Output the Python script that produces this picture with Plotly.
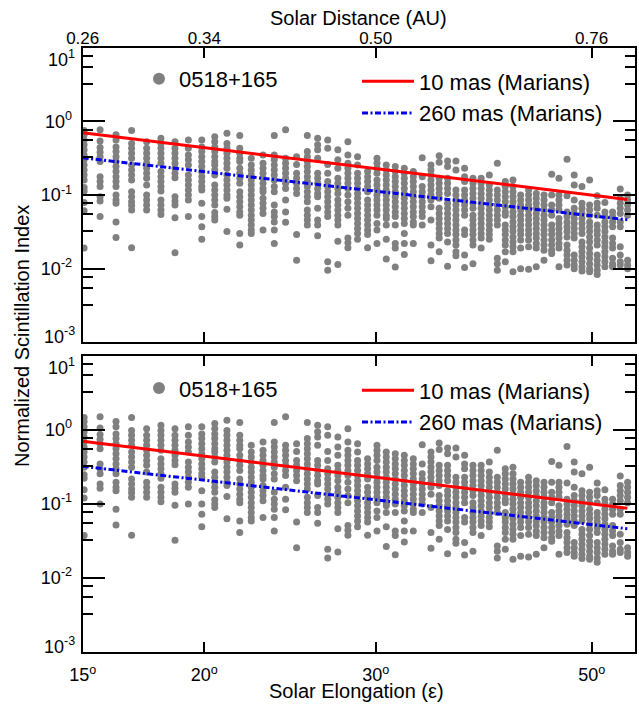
import numpy as np
import plotly.graph_objects as go

# ---------------- data ----------------
# Solar elongation (deg) of each observation column
elongation = [15.05, 15.63, 16.23, 16.84, 17.45, 18.05, 18.66, 19.26, 19.88, 20.50,
              21.10, 21.75, 22.35, 22.98, 23.60, 24.24, 24.88, 25.52, 26.15, 26.78,
              27.43, 28.09, 28.74, 29.43, 30.09, 30.76, 31.42, 32.10, 32.79, 33.49,
              34.19, 34.86, 35.56, 36.27, 37.02, 37.76, 38.50, 39.25, 40.00, 40.76,
              41.51, 42.27, 43.07, 43.86, 44.67, 45.49, 46.28, 47.17, 47.98, 48.87,
              49.76, 50.66, 51.59, 52.54, 53.50, 54.44]

# Normalized scintillation index values in each column (upper panel)
scint_index = [
    [0.75, 0.66, 0.56, 0.48, 0.41, 0.35, 0.30, 0.256, 0.219, 0.187, 0.160, 0.126, 0.113, 0.079, 0.061, 0.019],
    [0.77, 0.54, 0.44, 0.38, 0.33, 0.284, 0.177, 0.152, 0.130, 0.095, 0.083, 0.051],
    [0.66, 0.56, 0.45, 0.39, 0.33, 0.284, 0.243, 0.208, 0.177, 0.152, 0.130, 0.100, 0.0855, 0.077, 0.043, 0.0265],
    [0.75, 0.50, 0.43, 0.37, 0.315, 0.256, 0.219, 0.187, 0.160, 0.111, 0.095, 0.081, 0.072, 0.0625, 0.0192],
    [0.53, 0.43, 0.37, 0.315, 0.27, 0.231, 0.197, 0.169, 0.137, 0.100, 0.0855, 0.073, 0.0625],
    [0.59, 0.50, 0.43, 0.37, 0.315, 0.27, 0.208, 0.177, 0.152, 0.130, 0.113, 0.0855, 0.073, 0.0625, 0.0545],
    [0.53, 0.43, 0.37, 0.315, 0.27, 0.231, 0.197, 0.172, 0.095, 0.083, 0.073, 0.049, 0.0164],
    [0.56, 0.43, 0.35, 0.30, 0.256, 0.187, 0.160, 0.137, 0.117, 0.100, 0.0855, 0.051],
    [0.56, 0.45, 0.39, 0.33, 0.284, 0.243, 0.208, 0.177, 0.152, 0.130, 0.117, 0.077, 0.051, 0.037, 0.025],
    [0.62, 0.53, 0.45, 0.39, 0.33, 0.284, 0.256, 0.219, 0.187, 0.137, 0.117, 0.100, 0.0855, 0.073, 0.058, 0.051, 0.0457],
    [0.69, 0.50, 0.43, 0.37, 0.315, 0.27, 0.231, 0.187, 0.160, 0.137, 0.117, 0.100, 0.090, 0.064, 0.032],
    [0.64, 0.43, 0.37, 0.315, 0.284, 0.231, 0.197, 0.169, 0.144, 0.111, 0.095, 0.081, 0.069, 0.059, 0.053, 0.030, 0.021],
    [0.315, 0.256, 0.219, 0.187, 0.160, 0.137, 0.117, 0.100, 0.0855, 0.073, 0.0625, 0.053, 0.0457, 0.039, 0.0334, 0.030],
    [0.35, 0.27, 0.231, 0.197, 0.169, 0.144, 0.123, 0.111, 0.090, 0.077, 0.066, 0.056, 0.0334],
    [0.64, 0.35, 0.30, 0.256, 0.219, 0.187, 0.160, 0.130, 0.111, 0.073, 0.059, 0.051, 0.043, 0.0334, 0.022],
    [0.77, 0.315, 0.27, 0.231, 0.197, 0.169, 0.144, 0.123, 0.0855, 0.059, 0.0425],
    [0.33, 0.26, 0.197, 0.169, 0.144, 0.123, 0.105, 0.029, 0.013],
    [0.64, 0.39, 0.33, 0.284, 0.243, 0.208, 0.177, 0.152, 0.130, 0.111, 0.095, 0.081, 0.0625, 0.053, 0.0457, 0.039],
    [0.59, 0.48, 0.41, 0.315, 0.197, 0.169, 0.144, 0.123, 0.105, 0.095, 0.066, 0.0457, 0.039, 0.028],
    [0.56, 0.43, 0.26, 0.197, 0.152, 0.130, 0.111, 0.095, 0.081, 0.069, 0.059, 0.051, 0.0124, 0.0095],
    [0.41, 0.30, 0.231, 0.169, 0.144, 0.123, 0.105, 0.0855, 0.073, 0.0625, 0.053, 0.0457, 0.039, 0.0236, 0.0114],
    [0.53, 0.35, 0.27, 0.231, 0.197, 0.169, 0.144, 0.123, 0.100, 0.081, 0.066, 0.053, 0.026, 0.0224, 0.0192],
    [0.33, 0.256, 0.197, 0.169, 0.144, 0.123, 0.105, 0.090, 0.077, 0.066, 0.056, 0.048, 0.041, 0.035, 0.030, 0.025],
    [0.208, 0.177, 0.152, 0.130, 0.111, 0.0855, 0.073, 0.0625, 0.053, 0.0457, 0.039, 0.0334, 0.029, 0.0192],
    [0.315, 0.27, 0.231, 0.197, 0.160, 0.137, 0.117, 0.100, 0.0855, 0.073, 0.0625, 0.053, 0.041, 0.0334, 0.022],
    [0.256, 0.219, 0.187, 0.160, 0.137, 0.117, 0.100, 0.0855, 0.073, 0.0625, 0.053, 0.048, 0.039, 0.025, 0.0135],
    [0.243, 0.208, 0.177, 0.152, 0.130, 0.111, 0.095, 0.081, 0.069, 0.059, 0.051, 0.039, 0.022, 0.019, 0.0105],
    [0.231, 0.197, 0.169, 0.144, 0.123, 0.105, 0.090, 0.077, 0.066, 0.056, 0.048, 0.041, 0.030, 0.022, 0.0156],
    [0.208, 0.177, 0.152, 0.130, 0.111, 0.095, 0.081, 0.069, 0.059, 0.051, 0.043, 0.039, 0.022],
    [0.32, 0.177, 0.130, 0.111, 0.095, 0.081, 0.069, 0.059, 0.051, 0.039],
    [0.256, 0.219, 0.187, 0.160, 0.137, 0.117, 0.100, 0.0855, 0.069, 0.0457, 0.021, 0.0128],
    [0.34, 0.278, 0.169, 0.144, 0.123, 0.105, 0.090, 0.066, 0.056, 0.048, 0.041, 0.035, 0.030, 0.026, 0.017],
    [0.29, 0.243, 0.169, 0.144, 0.123, 0.105, 0.077, 0.066, 0.056, 0.048, 0.041, 0.035, 0.030, 0.023, 0.0108],
    [0.29, 0.219, 0.117, 0.100, 0.0855, 0.073, 0.0625, 0.053, 0.0457, 0.039, 0.0334, 0.029, 0.0244, 0.021, 0.017, 0.015],
    [0.231, 0.177, 0.152, 0.117, 0.100, 0.0855, 0.073, 0.0625, 0.053, 0.0334, 0.029, 0.0153, 0.0104],
    [0.169, 0.144, 0.123, 0.105, 0.090, 0.077, 0.066, 0.053, 0.0457, 0.039, 0.0334, 0.029, 0.0244, 0.021, 0.0117],
    [0.169, 0.144, 0.123, 0.105, 0.090, 0.077, 0.066, 0.056, 0.048, 0.041, 0.035, 0.030, 0.026, 0.019],
    [0.187, 0.137, 0.117, 0.100, 0.0855, 0.073, 0.0625, 0.053, 0.0457, 0.039, 0.0334, 0.029, 0.025],
    [0.27, 0.117, 0.100, 0.0855, 0.073, 0.0625, 0.053, 0.0457, 0.039, 0.0138, 0.0117, 0.0095],
    [0.152, 0.130, 0.111, 0.095, 0.081, 0.069, 0.059, 0.053, 0.039, 0.0334, 0.029, 0.0244, 0.021, 0.017, 0.0124],
    [0.160, 0.130, 0.111, 0.095, 0.081, 0.069, 0.059, 0.051, 0.043, 0.037, 0.032, 0.027, 0.023, 0.0198, 0.017, 0.0091],
    [0.100, 0.0855, 0.073, 0.0625, 0.053, 0.0457, 0.039, 0.0334, 0.029, 0.0244, 0.019, 0.0100],
    [0.117, 0.100, 0.0855, 0.073, 0.0625, 0.053, 0.0457, 0.039, 0.0334, 0.029, 0.0244, 0.0198, 0.0098],
    [0.105, 0.090, 0.077, 0.066, 0.056, 0.048, 0.041, 0.035, 0.030, 0.026, 0.022, 0.019, 0.0106],
    [0.100, 0.0855, 0.073, 0.0625, 0.053, 0.0457, 0.039, 0.0334, 0.029, 0.0244, 0.021, 0.0178, 0.013],
    [0.191, 0.100, 0.073, 0.0625, 0.053, 0.039, 0.0334, 0.029, 0.0244, 0.021, 0.0178, 0.016],
    [0.169, 0.100, 0.0855, 0.073, 0.0625, 0.048, 0.041, 0.035, 0.030, 0.026, 0.022, 0.019, 0.0106],
    [0.305, 0.098, 0.059, 0.051, 0.043, 0.037, 0.032, 0.027, 0.021, 0.0178, 0.0153, 0.013, 0.0112],
    [0.187, 0.137, 0.0855, 0.066, 0.056, 0.048, 0.041, 0.035, 0.030, 0.026, 0.0153, 0.013, 0.0112, 0.0100],
    [0.130, 0.077, 0.066, 0.056, 0.048, 0.041, 0.035, 0.030, 0.023, 0.0198, 0.017, 0.0145, 0.0124, 0.0106, 0.0093],
    [0.160, 0.073, 0.0625, 0.053, 0.043, 0.037, 0.032, 0.027, 0.023, 0.019, 0.016, 0.0138, 0.0117, 0.0100, 0.0091],
    [0.098, 0.077, 0.066, 0.053, 0.039, 0.0334, 0.029, 0.0244, 0.021, 0.0153, 0.013, 0.0112, 0.0095, 0.0083],
    [0.079, 0.059, 0.051, 0.043, 0.037, 0.032, 0.027, 0.023, 0.0198, 0.017, 0.0145, 0.0124, 0.0106],
    [0.059, 0.051, 0.043, 0.037, 0.026, 0.022, 0.019, 0.0138, 0.0117, 0.0106],
    [0.121, 0.090, 0.077, 0.066, 0.056, 0.043, 0.037, 0.0198, 0.0153, 0.0124, 0.0112],
    [0.100, 0.0855, 0.073, 0.0625, 0.053, 0.013, 0.0112, 0.0100],
]

# lower panel: same observations with a different normalization factor
lower_panel_factor = 1.95

# Marians model curves (straight lines in log-log), end points
model_elong = [15.0, 54.4]
model_10mas = [0.70, 0.087]
model_260mas = [0.32, 0.046]

source_name = "0518+165"
name_10 = "10 mas (Marians)"
name_260 = "260 mas (Marians)"

x_tickvals = [15, 20, 30, 50]
x_ticktext = ["15<sup>o</sup>", "20<sup>o</sup>", "30<sup>o</sup>", "50<sup>o</sup>"]
au_ticktext = ["0.26", "0.34", "0.50", "0.76"]
y_tickvals = [1e-2, 1e-1, 1e0]
y_ticktext = ["10<sup>-2</sup>", "10<sup>-1</sup>", "10<sup>0</sup>"]
y_edge_text_top = "10<sup>1</sup>"
y_edge_text_bottom = "10<sup>-3</sup>"
y_minor_mult = [3.25, 5.5, 7.75]
y_minor_decades = [1e-3, 1e-2, 1e-1, 1e0]

# ---------------- build ----------------
xs, ys = [], []
for e, col in zip(elongation, scint_index):
    for v in col:
        xs.append(e)
        ys.append(v)
ys_low = [v * lower_panel_factor for v in ys]

W, H = 639, 704
FONT = "Liberation Sans, Arial, Helvetica, sans-serif"
GRAY = "#808080"
RED = "#ff0000"
BLUE = "#0000ee"
DASHDOT = "6px,2.5px,2px,2.5px"

def px_x(p):
    return p / W

def px_y(p):
    return 1 - p / H

xdom = [px_x(82.7), px_x(635.0)]
top_dom = [px_y(342.3), px_y(47.7)]
bot_dom = [px_y(651.7), px_y(355.7)]
xr = [np.log10(15.0), np.log10(55.4)]

fig = go.Figure()

# upper panel
fig.add_trace(go.Scatter(x=xs, y=ys, mode="markers", name=source_name,
                         marker=dict(color=GRAY, size=7, line=dict(width=0)),
                         xaxis="x", yaxis="y", legend="legend"))
fig.add_trace(go.Scatter(x=model_elong, y=model_10mas, mode="lines", name=name_10,
                         line=dict(color=RED, width=3), xaxis="x", yaxis="y",
                         legend="legend2", legendgroup="a"))
fig.add_trace(go.Scatter(x=model_elong, y=model_260mas, mode="lines", name=name_260,
                         line=dict(color=BLUE, width=3, dash=DASHDOT),
                         xaxis="x", yaxis="y", legend="legend2", legendgroup="b"))
# lower panel
fig.add_trace(go.Scatter(x=xs, y=ys_low, mode="markers", name=source_name,
                         marker=dict(color=GRAY, size=7, line=dict(width=0)),
                         xaxis="x3", yaxis="y2", legend="legend3"))
fig.add_trace(go.Scatter(x=model_elong, y=model_10mas, mode="lines", name=name_10,
                         line=dict(color=RED, width=3), xaxis="x3", yaxis="y2",
                         legend="legend4", legendgroup="c"))
fig.add_trace(go.Scatter(x=model_elong, y=model_260mas, mode="lines", name=name_260,
                         line=dict(color=BLUE, width=3, dash=DASHDOT),
                         xaxis="x3", yaxis="y2", legend="legend4", legendgroup="d"))

minor_vals = [m * d for d in y_minor_decades for m in y_minor_mult]

common_x = dict(type="log", range=xr, domain=xdom, showgrid=False, zeroline=False,
                showline=True, linewidth=2, linecolor="black", mirror="ticks",
                ticks="inside", ticklen=10, tickwidth=2, tickcolor="black",
                tickmode="array", tickvals=x_tickvals, automargin=False)
common_y = dict(type="log", range=[-3, 1], showgrid=False, zeroline=False,
                showline=True, linewidth=2, linecolor="black", mirror="ticks",
                ticks="inside", ticklen=22, tickwidth=2, tickcolor="black",
                tickmode="array", tickvals=y_tickvals, ticktext=y_ticktext,
                ticklabelstandoff=5, automargin=False,
                tickfont=dict(family=FONT, size=18, color="black"),
                minor=dict(tickmode="array", tickvals=minor_vals, ticks="inside",
                           ticklen=10, tickwidth=2, tickcolor="black", showgrid=False))

fig.update_layout(
    width=W, height=H, autosize=False,
    margin=dict(l=0, r=0, t=0, b=0, pad=0, autoexpand=False),
    paper_bgcolor="white", plot_bgcolor="white",
    font=dict(family=FONT, size=18, color="black"),
    xaxis=dict(**common_x, anchor="y", side="top", showticklabels=True,
               ticktext=au_ticktext, ticklabelstandoff=-5,
               tickfont=dict(family=FONT, size=17, color="black")),
    xaxis3=dict(**common_x, anchor="y2", showticklabels=True, ticktext=x_ticktext,
                ticklabelstandoff=6,
                tickfont=dict(family=FONT, size=18, color="black")),
    yaxis=dict(**common_y, domain=top_dom, anchor="x"),
    yaxis2=dict(**common_y, domain=bot_dom, anchor="x3"),
    showlegend=True,
)

leg_common = dict(bgcolor="rgba(0,0,0,0)", borderwidth=0,
                  font=dict(family=FONT, size=22, color="black"),
                  xanchor="left", yanchor="middle")
fig.update_layout(
    legend=dict(**leg_common, x=px_x(159 - 20), y=px_y(79), itemsizing="constant"),
    legend2=dict(**leg_common, x=px_x(362 - 5), y=px_y(97.5), tracegroupgap=0,
                 itemwidth=52),
    legend3=dict(**leg_common, x=px_x(159 - 20), y=px_y(388.3), itemsizing="constant"),
    legend4=dict(**leg_common, x=px_x(362 - 5), y=px_y(406.5), tracegroupgap=0,
                 itemwidth=52),
)

# y labels at the panel edges (drawn inward, as in the original)
for txt, ypix in [(y_edge_text_top, 58), (y_edge_text_bottom, 335),
                  (y_edge_text_top, 366), (y_edge_text_bottom, 645)]:
    fig.add_annotation(text=txt, xref="paper", yref="paper", x=px_x(77), y=px_y(ypix),
                       showarrow=False, xanchor="right", yanchor="middle",
                       font=dict(family=FONT, size=18, color="black"))

fig.add_annotation(text="Normalized Scintillation Index", xref="paper", yref="paper",
                   x=px_x(22), y=px_y(336), textangle=-90, showarrow=False,
                   xanchor="center", yanchor="middle",
                   font=dict(family=FONT, size=20, color="black"))
fig.add_annotation(text="Solar Distance (AU)", xref="paper", yref="paper",
                   x=px_x(358), y=px_y(18), showarrow=False,
                   xanchor="center", yanchor="middle",
                   font=dict(family=FONT, size=20, color="black"))
fig.add_annotation(text="Solar Elongation (\u03b5)", xref="paper", yref="paper",
                   x=px_x(356), y=px_y(691), showarrow=False,
                   xanchor="center", yanchor="middle",
                   font=dict(family=FONT, size=20, color="black"))

fig.write_html("out.html", post_script="document.body.style.margin='0';")
